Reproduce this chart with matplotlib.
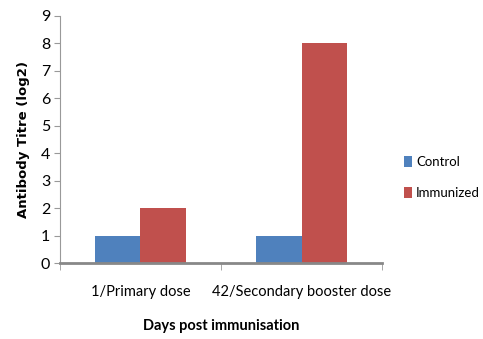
import matplotlib
matplotlib.use('Agg')
import matplotlib.pyplot as plt
import numpy as np

plt.rcParams['font.family'] = ['Lato', 'DejaVu Sans']

# data
doses = ['1/Primary dose', '42/Secondary booster dose']
control = [1, 1]
immunized = [2, 8]
y_ticks = list(range(0, 10))

fig = plt.figure(figsize=(4.83, 3.39), dpi=100)
ax = fig.add_axes([0.124, 0.224, 0.667, 0.729])

x = np.arange(len(doses))
w = 0.283
ax.bar(x - w / 2, control, w, color='#4F81BD', label='Control')
ax.bar(x + w / 2, immunized, w, color='#C0504D', label='Immunized')

ax.set_xlim(-0.5, 1.5)
ax.set_ylim(0, 9)
ax.set_yticks(y_ticks)
ax.set_xticks(x)
ax.set_xticklabels(doses, fontsize=10.5)
ax.set_xticks([-0.5, 0.5, 1.5], minor=True)
ax.tick_params(axis='x', which='major', length=0, pad=16)
ax.tick_params(axis='x', which='minor', length=5, color='#999999')
ax.tick_params(axis='y', length=4, color='#999999', labelsize=11.5, pad=3)

for s in ['top', 'right']:
    ax.spines[s].set_visible(False)
ax.spines['left'].set_color('#999999')
ax.spines['bottom'].set_color('#888888')
ax.spines['bottom'].set_linewidth(2)

ax.set_ylabel('Antibody Titre (log2)', fontsize=9.5, fontweight='bold',
              family=['DejaVu Sans'], labelpad=8)
ax.set_xlabel('Days post immunisation', fontsize=10.5, fontweight='bold', labelpad=14)

ax.legend(loc='center left', bbox_to_anchor=(1.04, 0.345), frameon=False,
          handlelength=0.6, handleheight=0.9, handletextpad=0.3,
          labelspacing=1.45, fontsize=9.5, borderaxespad=0.3)

fig.savefig('out.png', dpi=100)
